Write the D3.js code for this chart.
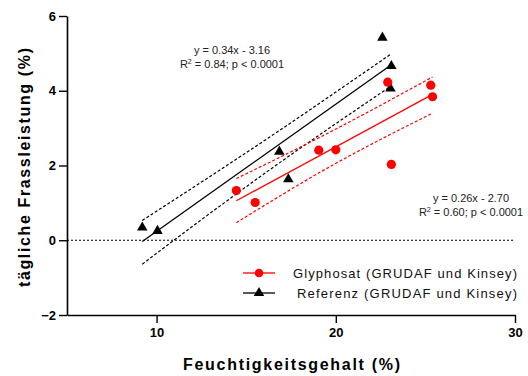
<!DOCTYPE html>
<html>
<head>
<meta charset="utf-8">
<script src="https://cdn.jsdelivr.net/npm/d3@7"></script>
<style>
	body { margin: 0; background: #fff; }
	text { font-family: "Liberation Sans", Arial, sans-serif; }
</style>
</head>
<body>
<svg id="chart" width="528" height="376"></svg>
<script>
'use strict';

// Glyphosat points (red circles)
const glyX = [14.45, 15.5, 19.05, 20.0, 22.9, 23.1, 25.3, 25.4];
const glyY = [1.33, 1.01, 2.41, 2.42, 4.23, 2.03, 4.15, 3.84];
// Referenz points (black triangles)
const refX = [9.2, 10.05, 16.85, 17.35, 22.6, 23.1, 23.05];
const refY = [0.34, 0.25, 2.37, 1.63, 5.42, 4.66, 4.06];

// regression fits: slope, intercept, x range
const glyFit = { slope: 0.26, intercept: -2.70, from: 14.45, to: 25.4 };
const refFit = { slope: 0.34, intercept: -3.16, from: 9.2, to: 23.1 };

// 95% bands (start, middle, end)
const refBandX = [9.2, 16.15, 23.1];
const refBandUpper = [0.53, 2.71, 4.99];
const refBandLower = [-0.64, 1.83, 4.13];
const glyBandX = [14.45, 19.9, 25.4];
const glyBandUpper = [1.65, 2.95, 4.37];
const glyBandLower = [0.47, 2.03, 3.40];

const xTicks = [10, 20, 30];
const yTicks = [-2, 0, 2, 4, 6];

const svg = d3.select('#chart');
const x = d3.scaleLinear().domain([5, 30]).range([67, 515]);
const y = d3.scaleLinear().domain([-2, 6]).range([315, 16]);

// zero line
svg.append('line')
	.attr('x1', x(5)).attr('x2', x(30))
	.attr('y1', y(0)).attr('y2', y(0))
	.attr('stroke', '#000').attr('stroke-width', 1)
	.attr('stroke-dasharray', '2,2');

const xAxis = svg.append('g')
	.attr('transform', `translate(0,${y(-2)})`)
	.call(d3.axisBottom(x).tickValues(xTicks).tickSize(8).tickSizeOuter(0).tickPadding(5));
const yAxis = svg.append('g')
	.attr('transform', `translate(${x(5)},0)`)
	.call(d3.axisLeft(y).tickValues(yTicks).tickSize(8).tickSizeOuter(0).tickPadding(3));
for (const ax of [xAxis, yAxis]) {
	ax.select('.domain').attr('stroke-width', 1.6);
	ax.selectAll('.tick line').attr('stroke-width', 1.4);
	ax.selectAll('.tick text')
		.attr('font-size', 13).attr('font-weight', 'bold').attr('fill', '#000')
		.attr('font-family', '"Liberation Sans", Arial, sans-serif');
}

const bandLine = d3.line().curve(d3.curveNatural);
function drawBand(xs, ys, color) {
	svg.append('path')
		.attr('d', bandLine(xs.map((v, i) => [x(v), y(ys[i])])))
		.attr('fill', 'none').attr('stroke', color)
		.attr('stroke-width', 1.2).attr('stroke-dasharray', '3,2');
}
function drawFit(fit, color) {
	svg.append('line')
		.attr('x1', x(fit.from)).attr('y1', y(fit.slope * fit.from + fit.intercept))
		.attr('x2', x(fit.to)).attr('y2', y(fit.slope * fit.to + fit.intercept))
		.attr('stroke', color).attr('stroke-width', 1.3);
}

drawBand(refBandX, refBandUpper, '#000');
drawBand(refBandX, refBandLower, '#000');
drawFit(refFit, '#000');
drawBand(glyBandX, glyBandUpper, '#ff0000');
drawBand(glyBandX, glyBandLower, '#ff0000');
drawFit(glyFit, '#ff0000');

const tri = d3.symbol().type(d3.symbolTriangle).size(48);
svg.append('g').selectAll('path')
	.data(refX)
	.join('path')
	.attr('d', tri)
	.attr('transform', (d, i) => `translate(${x(d)},${y(refY[i])})`)
	.attr('fill', '#000');

svg.append('g').selectAll('circle')
	.data(glyX)
	.join('circle')
	.attr('cx', d => x(d))
	.attr('cy', (d, i) => y(glyY[i]))
	.attr('r', 4.6)
	.attr('fill', '#ff0000');

// equations
function equation(cx, cy, line1, r2) {
	const g = svg.append('g').attr('fill', '#222').attr('font-size', 11).attr('text-anchor', 'middle');
	g.append('text').attr('x', cx).attr('y', cy).text(line1);
	const t = g.append('text').attr('x', cx).attr('y', cy + 14);
	t.append('tspan').text('R');
	t.append('tspan').attr('font-size', 7).attr('dy', -4).text('2');
	t.append('tspan').attr('dy', 4).text(r2);
}
equation(232, 54, 'y = 0.34x - 3.16', ' = 0.84; p < 0.0001');
equation(471, 202, 'y = 0.26x - 2.70', ' = 0.60; p < 0.0001');

// legend
const legend = [
	{ label: 'Glyphosat (GRUDAF und Kinsey)', color: '#ff0000', shape: 'circle', x0: 293 },
	{ label: 'Referenz (GRUDAF und Kinsey)', color: '#000', shape: 'triangle', x0: 297 }
];
legend.forEach((d, i) => {
	const ly = 273 + i * 20;
	svg.append('line').attr('x1', 243).attr('x2', 275).attr('y1', ly).attr('y2', ly)
		.attr('stroke', d.color).attr('stroke-width', 1.3);
	if (d.shape === 'circle') {
		svg.append('circle').attr('cx', 259).attr('cy', ly).attr('r', 4.3).attr('fill', d.color);
	} else {
		svg.append('path').attr('d', tri).attr('transform', `translate(259,${ly})`).attr('fill', d.color);
	}
	svg.append('text').attr('x', d.x0).attr('y', ly + 4.5)
		.attr('font-size', 13).attr('fill', '#111')
		.attr('textLength', 517 - d.x0).attr('lengthAdjust', 'spacing')
		.text(d.label);
});

// axis titles
svg.append('text')
	.attr('x', 183).attr('y', 370)
	.attr('font-size', 16).attr('font-weight', 'bold')
	.attr('textLength', 217).attr('lengthAdjust', 'spacing')
	.text('Feuchtigkeitsgehalt (%)');
svg.append('text')
	.attr('transform', 'translate(30,287) rotate(-90)')
	.attr('font-size', 16).attr('font-weight', 'bold')
	.attr('textLength', 239).attr('lengthAdjust', 'spacing')
	.text('tägliche Frassleistung (%)');
</script>
</body>
</html>
